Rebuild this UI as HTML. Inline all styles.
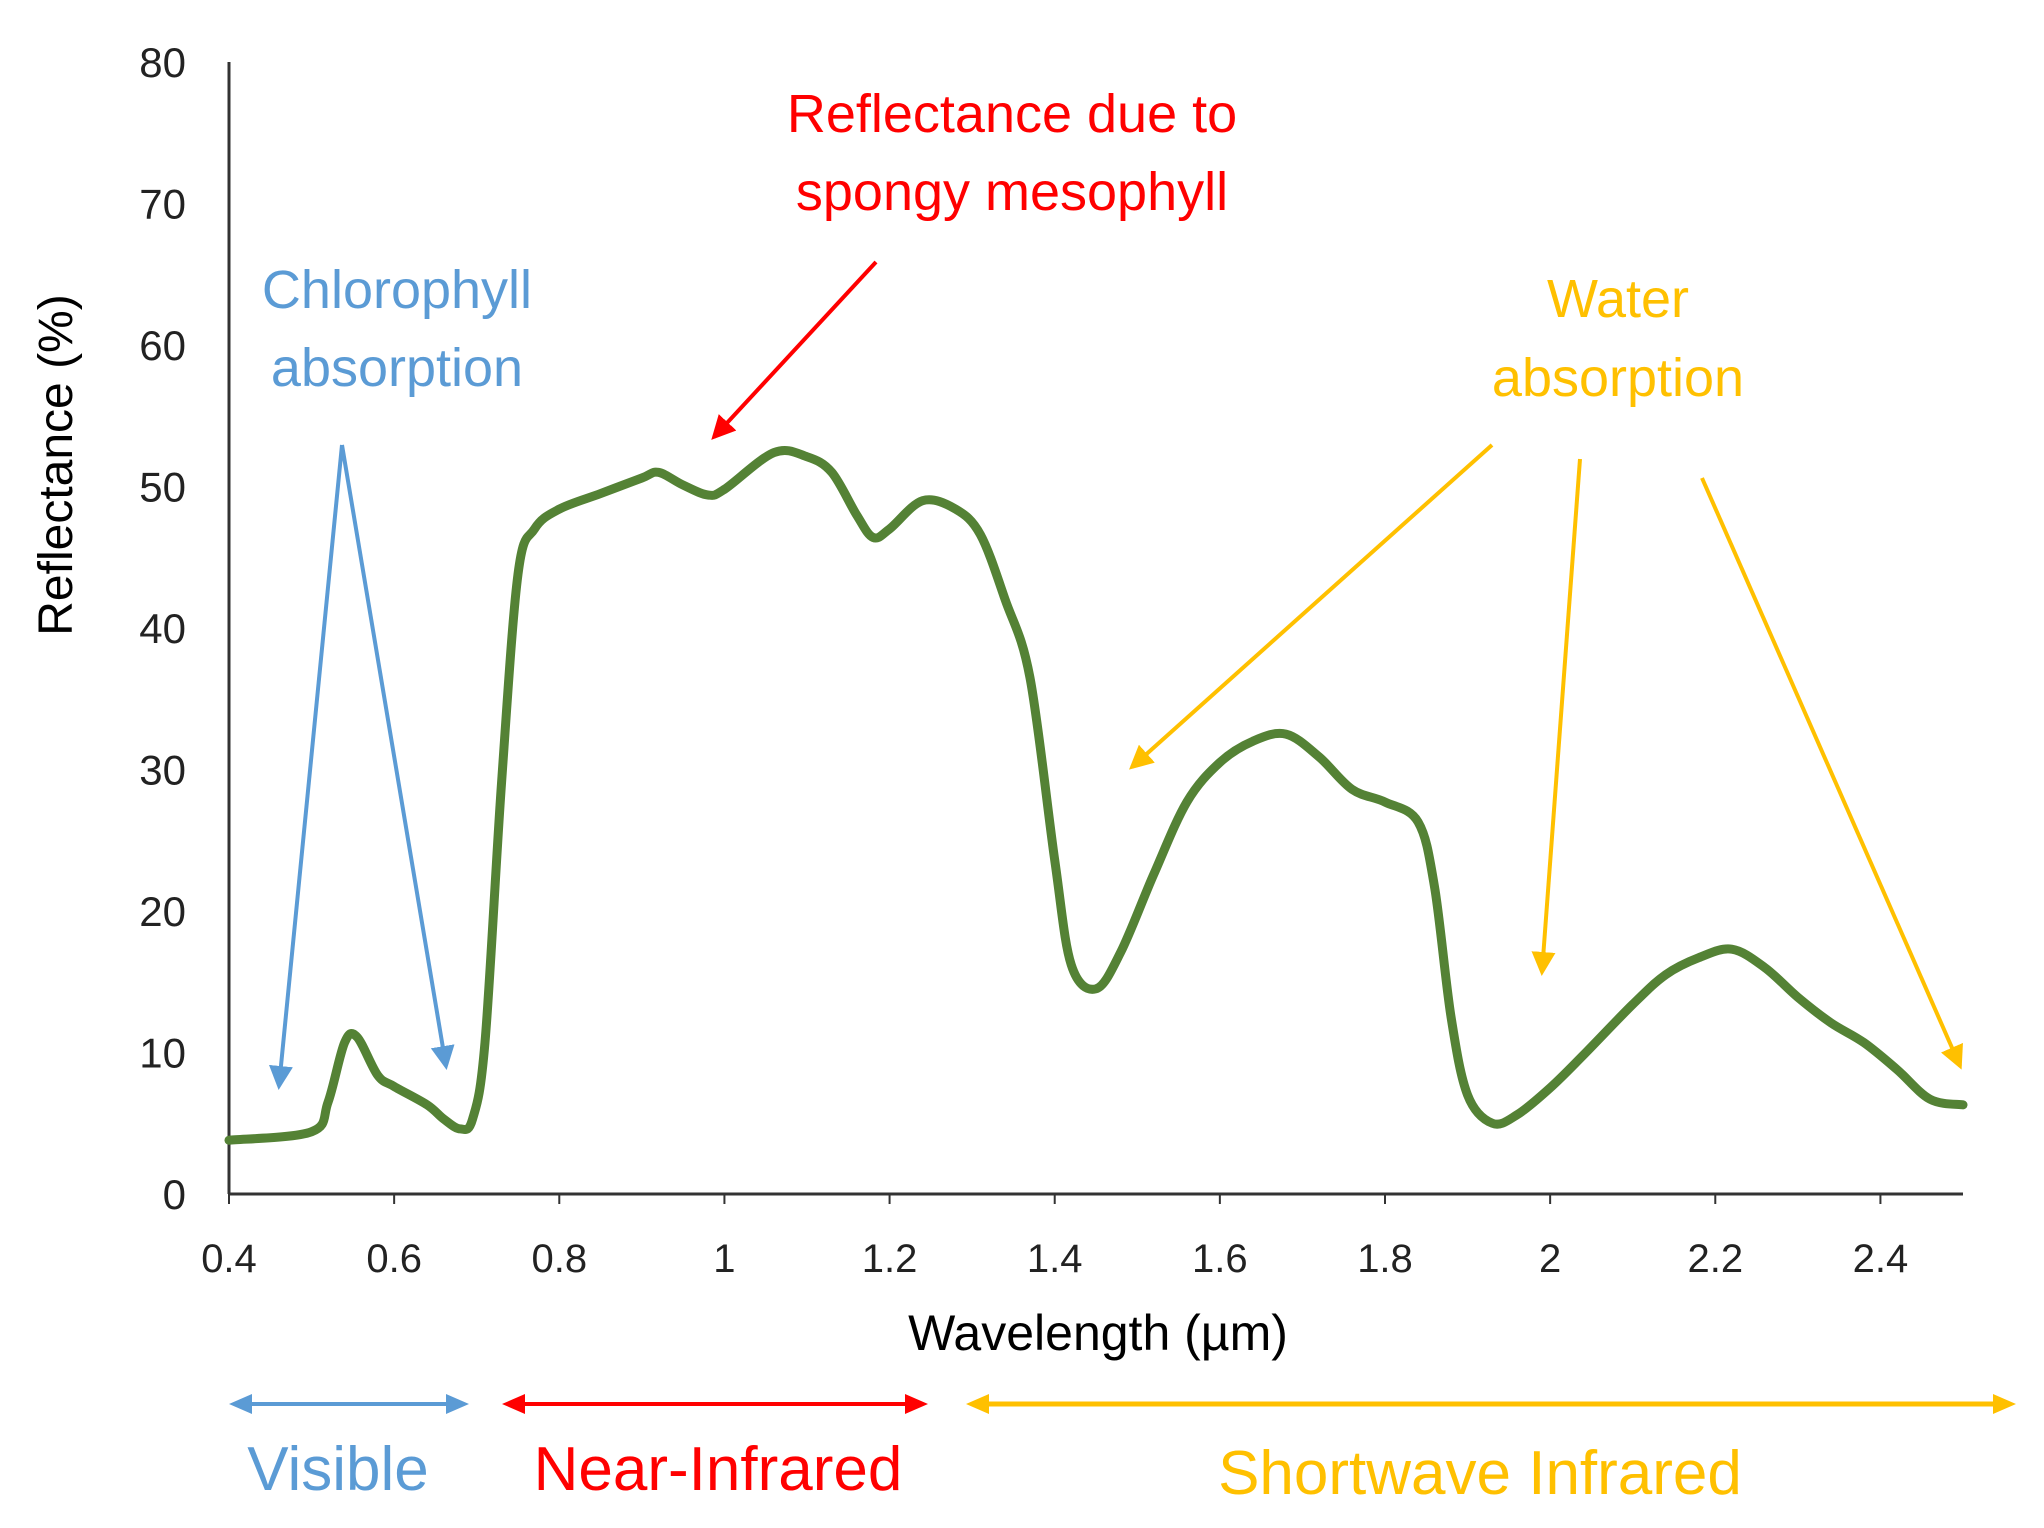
<!DOCTYPE html>
<html><head><meta charset="utf-8"><style>
html,body{margin:0;padding:0;background:#fff;}
svg{display:block;}
text{font-family:"Liberation Sans",sans-serif;}
</style></head><body>
<svg id="chart" width="2044" height="1528" viewBox="0 0 2044 1528" xmlns="http://www.w3.org/2000/svg">
<defs>
<marker id="mb" markerWidth="6" markerHeight="6" refX="5" refY="3" orient="auto" markerUnits="strokeWidth"><path d="M0,0 L6,3 L0,6 z" fill="#5b9bd5"/></marker>
<marker id="mr" markerWidth="6" markerHeight="6" refX="5" refY="3" orient="auto" markerUnits="strokeWidth"><path d="M0,0 L6,3 L0,6 z" fill="#ff0000"/></marker>
<marker id="my" markerWidth="6" markerHeight="6" refX="5" refY="3" orient="auto" markerUnits="strokeWidth"><path d="M0,0 L6,3 L0,6 z" fill="#ffc000"/></marker>
</defs>
<g id="axes"></g>
<path id="curve" fill="none" stroke="#548235" stroke-width="9" stroke-linejoin="round" stroke-linecap="round"/>
<text transform="translate(72,465) rotate(-90)" text-anchor="middle" font-size="48" fill="#000">Reflectance (%)</text>
<text x="1098" y="1350" text-anchor="middle" font-size="50" fill="#000">Wavelength (µm)</text>

<g fill="#ff0000" font-size="54" text-anchor="middle">
<text x="1012" y="132">Reflectance due to</text>
<text x="1012" y="210">spongy mesophyll</text>
</g>
<line x1="876" y1="262" x2="714" y2="437" stroke="#ff0000" stroke-width="4" marker-end="url(#mr)"/>

<g fill="#5b9bd5" font-size="54" text-anchor="middle">
<text x="397" y="308">Chlorophyll</text>
<text x="397" y="386">absorption</text>
</g>
<line x1="342" y1="445" x2="279" y2="1086" stroke="#5b9bd5" stroke-width="4" marker-end="url(#mb)"/>
<line x1="342" y1="445" x2="446" y2="1066" stroke="#5b9bd5" stroke-width="4" marker-end="url(#mb)"/>

<g fill="#ffc000" font-size="54" text-anchor="middle">
<text x="1618" y="317">Water</text>
<text x="1618" y="396">absorption</text>
</g>
<line x1="1492" y1="445" x2="1132" y2="767" stroke="#ffc000" stroke-width="4" marker-end="url(#my)"/>
<line x1="1580" y1="459" x2="1542" y2="972" stroke="#ffc000" stroke-width="4" marker-end="url(#my)"/>
<line x1="1702" y1="478" x2="1960" y2="1066" stroke="#ffc000" stroke-width="4" marker-end="url(#my)"/>

<g>
<line x1="235" y1="1404" x2="463" y2="1404" stroke="#5b9bd5" stroke-width="4"/>
<path d="M229,1404 L252,1394 L252,1414 z M469,1404 L446,1394 L446,1414 z" fill="#5b9bd5"/>
<text x="338" y="1490" text-anchor="middle" font-size="62" fill="#5b9bd5">Visible</text>
</g>
<g>
<line x1="510" y1="1404" x2="922" y2="1404" stroke="#ff0000" stroke-width="4"/>
<path d="M502,1404 L525,1394 L525,1414 z M928,1404 L905,1394 L905,1414 z" fill="#ff0000"/>
<text x="718" y="1490" text-anchor="middle" font-size="62" fill="#ff0000">Near-Infrared</text>
</g>
<g>
<line x1="975" y1="1404" x2="2010" y2="1404" stroke="#ffc000" stroke-width="5"/>
<path d="M966,1404 L989,1394 L989,1414 z M2016,1404 L1993,1394 L1993,1414 z" fill="#ffc000"/>
<text x="1480" y="1494" text-anchor="middle" font-size="62" fill="#ffc000">Shortwave Infrared</text>
</g>
</svg>
<script>
const wavelengths = [0.4,0.5,0.52,0.54,0.555,0.58,0.6,0.64,0.66,0.68,0.695,0.71,0.73,0.75,0.77,0.8,0.85,0.9,0.92,0.95,0.98,1.0,1.06,1.1,1.13,1.16,1.18,1.2,1.24,1.28,1.31,1.34,1.37,1.4,1.42,1.45,1.48,1.52,1.56,1.6,1.64,1.68,1.72,1.76,1.8,1.84,1.86,1.88,1.9,1.93,1.96,2.0,2.04,2.1,2.14,2.18,2.22,2.26,2.3,2.34,2.38,2.42,2.46,2.5];
const reflectance = [3.8,4.4,6.5,10.7,11.1,8.4,7.6,6.3,5.3,4.6,5.3,10.7,29,43.8,47,48.4,49.5,50.6,51,50.1,49.4,49.8,52.4,52.1,51,48,46.4,47,49,48.4,46.6,42,36.5,23.6,16.2,14.5,17.1,22.6,27.7,30.5,32,32.5,30.9,28.6,27.7,26.3,21.7,12.5,7,5,5.6,7.5,9.8,13.4,15.5,16.7,17.3,16,13.9,12.1,10.7,8.8,6.7,6.3];
const xTicks = [0.4,0.6,0.8,1,1.2,1.4,1.6,1.8,2,2.2,2.4];
const xTickLabels = ["0.4","0.6","0.8","1","1.2","1.4","1.6","1.8","2","2.2","2.4"];
const yTicks = [0,10,20,30,40,50,60,70,80];
const yTickLabels = ["0","10","20","30","40","50","60","70","80"];

const X0=229, X1=1963, XMIN=0.4, XMAX=2.5;
const Y0=1194, Y1=62, YMIN=0, YMAX=80;
function xs(v){return X0+(v-XMIN)/(XMAX-XMIN)*(X1-X0);}
function ys(v){return Y0-(v-YMIN)/(YMAX-YMIN)*(Y0-Y1);}
const NS="http://www.w3.org/2000/svg";
const axes=document.getElementById('axes');
function mk(tag,attrs,parent){const e=document.createElementNS(NS,tag);for(const k in attrs)e.setAttribute(k,attrs[k]);parent.appendChild(e);return e;}

const yl=mk('line',{x1:X0,y1:Y1,x2:X0,y2:Y0,stroke:'#333','stroke-width':3},axes);


const xl=mk('line',{x1:X0,y1:Y0,x2:X1,y2:Y0,stroke:'#333','stroke-width':3},axes);



yTicks.forEach((t,i)=>{
  const tx=mk('text',{x:186,y:ys(t)+15,'text-anchor':'end','font-size':42,fill:'#222'},axes);
  tx.textContent=yTickLabels[i];
  
  
});
xTicks.forEach((t,i)=>{
  const tk=mk('line',{x1:xs(t),y1:Y0,x2:xs(t),y2:Y0+10,stroke:'#333','stroke-width':2},axes);
  
  
  const tx=mk('text',{x:xs(t),y:1272,'text-anchor':'middle','font-size':40,fill:'#222'},axes);
  tx.textContent=xTickLabels[i];
  
  
});

const pts=wavelengths.map((w,i)=>[xs(w),ys(reflectance[i])]);
let d='M'+pts[0][0]+','+pts[0][1];
for(let i=0;i<pts.length-1;i++){
  const p0=pts[Math.max(i-1,0)],p1=pts[i],p2=pts[i+1],p3=pts[Math.min(i+2,pts.length-1)];
  const c1=[p1[0]+(p2[0]-p0[0])/6,p1[1]+(p2[1]-p0[1])/6];
  const c2=[p2[0]-(p3[0]-p1[0])/6,p2[1]-(p3[1]-p1[1])/6];
  d+=' C'+c1[0]+','+c1[1]+' '+c2[0]+','+c2[1]+' '+p2[0]+','+p2[1];
}
document.getElementById('curve').setAttribute('d',d);
</script>
</body></html>
